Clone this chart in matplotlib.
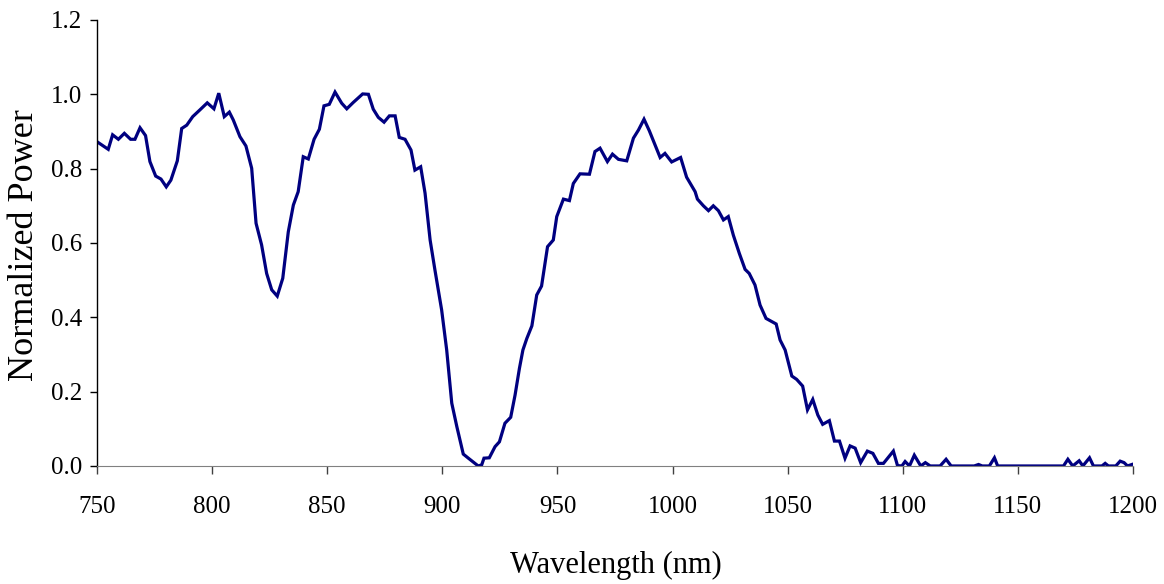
import matplotlib.pyplot as plt

# measured spectrum, wavelength in nm and power normalised to the peak
wavelength = [750.6, 754.9, 756.8, 759.3, 761.9, 764.6, 766.5, 768.7, 771.1, 773.0,
              775.5, 777.8, 780.1, 782.1, 784.9, 786.8, 789.0, 791.6, 794.7, 797.9,
              800.8, 802.9, 805.3, 807.5, 809.2, 812.1, 814.7, 817.2, 819.1, 821.5,
              823.7, 825.9, 828.3, 830.7, 833.1, 835.3, 837.4, 839.6, 841.8, 844.3,
              846.6, 848.6, 850.9, 853.4, 856.3, 858.5, 861.3, 865.4, 867.9, 870.0,
              872.2, 874.7, 877.0, 879.5, 881.3, 883.8, 886.4, 888.1, 890.6, 892.5,
              894.7, 896.8, 899.7, 901.9, 904.1, 906.3, 909.1, 911.3, 914.2, 915.6,
              917.1, 918.1, 920.4, 922.9, 924.8, 927.2, 929.7, 931.6, 933.5, 935.0,
              936.7, 938.9, 941.0, 943.1, 945.7, 948.2, 949.7, 952.6, 955.2, 956.9,
              959.8, 963.9, 966.3, 968.5, 971.7, 973.9, 976.5, 980.1, 983.0, 985.2,
              987.6, 989.9, 992.4, 994.6, 996.7, 999.6, 1003.5, 1006.1, 1009.8, 1010.8,
              1013.4, 1015.6, 1017.7, 1019.9, 1022.1, 1024.2, 1026.4, 1029.0, 1031.5, 1033.3,
              1035.8, 1038.0, 1040.6, 1045.0, 1046.7, 1048.9, 1051.8, 1053.9, 1056.5, 1058.6,
              1060.9, 1063.1, 1065.2, 1068.1, 1070.3, 1072.5, 1074.9, 1077.1, 1079.3, 1081.7,
              1084.6, 1087.0, 1089.4, 1091.6, 1095.9, 1097.7, 1099.6, 1101.0, 1102.9, 1105.0,
              1107.8, 1109.8, 1111.9, 1116.2, 1118.8, 1121.0, 1131.0, 1132.9, 1134.5, 1137.6,
              1139.8, 1141.2, 1169.8, 1171.7, 1173.8, 1176.6, 1178.2, 1181.1, 1182.8, 1186.5,
              1187.9, 1189.3, 1192.5, 1194.4, 1196.1, 1197.6, 1199.5]
power = [0.870, 0.852, 0.891, 0.879, 0.895, 0.879, 0.879, 0.910, 0.889, 0.819,
         0.780, 0.772, 0.751, 0.769, 0.821, 0.908, 0.917, 0.940, 0.958, 0.977,
         0.961, 1.003, 0.940, 0.952, 0.931, 0.886, 0.861, 0.801, 0.653, 0.595,
         0.518, 0.474, 0.457, 0.505, 0.630, 0.702, 0.738, 0.832, 0.826, 0.879,
         0.906, 0.969, 0.973, 1.006, 0.976, 0.961, 0.978, 1.001, 1.000, 0.960,
         0.938, 0.925, 0.942, 0.942, 0.884, 0.879, 0.850, 0.796, 0.805, 0.734,
         0.608, 0.527, 0.420, 0.312, 0.169, 0.106, 0.032, 0.021, 0.007, 0.000,
         0.003, 0.021, 0.022, 0.052, 0.065, 0.115, 0.131, 0.191, 0.263, 0.312,
         0.343, 0.377, 0.460, 0.484, 0.590, 0.608, 0.671, 0.718, 0.714, 0.760,
         0.786, 0.785, 0.846, 0.855, 0.819, 0.839, 0.825, 0.821, 0.882, 0.904,
         0.933, 0.902, 0.864, 0.830, 0.841, 0.818, 0.830, 0.777, 0.738, 0.718,
         0.700, 0.687, 0.700, 0.687, 0.662, 0.671, 0.621, 0.572, 0.529, 0.518,
         0.487, 0.433, 0.397, 0.382, 0.339, 0.312, 0.242, 0.233, 0.215, 0.151,
         0.179, 0.137, 0.112, 0.122, 0.067, 0.067, 0.021, 0.054, 0.048, 0.009,
         0.040, 0.034, 0.007, 0.007, 0.040, 0.001, 0.000, 0.012, 0.000, 0.029,
         0.000, 0.009, 0.000, 0.000, 0.018, 0.000, 0.000, 0.004, 0.000, 0.000,
         0.022, 0.000, 0.000, 0.018, 0.000, 0.014, 0.000, 0.022, 0.000, 0.000,
         0.007, 0.000, 0.000, 0.013, 0.009, 0.000, 0.004]

plt.rcParams['font.family'] = ['Liberation Serif', 'DejaVu Serif']

fig = plt.figure(figsize=(11.64, 5.84), dpi=100)
ax = fig.add_axes([0.0833, 0.2021, 0.8901, 0.7637])

ax.plot(wavelength, power, color='#000080', linewidth=2.3, solid_joinstyle='miter')

ax.set_xlim(750, 1200)
ax.set_ylim(0, 1.2)
ax.set_xticks(range(750, 1201, 50))
ax.set_yticks([0.0, 0.2, 0.4, 0.6, 0.8, 1.0, 1.2])
ax.set_yticklabels(['%.1f' % v for v in ax.get_yticks()])

# only left and bottom axis lines, bottom one in grey
ax.spines['top'].set_visible(False)
ax.spines['right'].set_visible(False)
ax.spines['bottom'].set_color('#808080')
ax.spines['left'].set_linewidth(1.0)
ax.tick_params(axis='both', direction='out', width=1, labelsize=18, colors='black')
ax.tick_params(axis='x', length=5.8, pad=16, color='#404040')
ax.tick_params(axis='y', length=5, pad=5.5)

# axis titles placed in figure pixels
W, H = 1164, 584
fig.text(25 / W, 1 - 245 / H, 'Normalized Power', fontsize=26,
         rotation=90, ha='center', va='center')
fig.text(615.5 / W, 1 - 573 / H, 'Wavelength (nm)', fontsize=22,
         ha='center', va='baseline')

fig.savefig('out.png', dpi=100)
